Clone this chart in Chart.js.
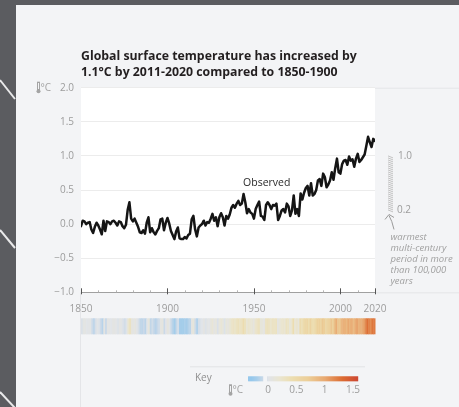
<!DOCTYPE html>
<html>
<head>
<meta charset="utf-8">
<script src="https://cdn.jsdelivr.net/npm/chart.js@4.4.1/dist/chart.umd.min.js"></script>
<style>
  html, body { margin: 0; padding: 0; background: #5b5c60; }
  canvas { display: block; }
</style>
</head>
<body>
<canvas id="gmst" width="459" height="407"></canvas>
<script>
// Observed global surface temperature change relative to 1850-1900 (°C), one value per year
const firstYear = 1850;
const observed = [
  -0.03, 0.05, 0.04, 0.00, 0.02, 0.03, -0.08, -0.13, -0.04, 0.02,   // 1850s
  -0.02, -0.08, -0.15, 0.05, -0.10, 0.04, 0.03, 0.00, 0.04, 0.05,   // 1860s
  0.02, -0.02, 0.04, 0.03, -0.03, -0.06, -0.01, 0.21, 0.32, 0.08,   // 1870s
  0.04, 0.08, 0.02, -0.04, -0.12, -0.13, -0.09, -0.14, 0.02, 0.10,  // 1880s
  -0.12, -0.06, -0.12, -0.15, -0.10, -0.06, 0.07, 0.08, -0.09, 0.02, // 1890s
  0.09, 0.01, -0.10, -0.16, -0.22, -0.11, -0.05, -0.21, -0.22, -0.22, // 1900s
  -0.19, -0.21, -0.16, -0.14, 0.07, 0.12, -0.08, -0.18, -0.05, -0.02, // 1910s
  0.00, 0.05, -0.02, 0.03, 0.02, 0.08, 0.15, 0.05, 0.10, -0.03,     // 1920s
  0.10, 0.16, 0.10, -0.02, 0.12, 0.08, 0.14, 0.24, 0.28, 0.24,      // 1930s
  0.30, 0.34, 0.28, 0.30, 0.44, 0.32, 0.16, 0.22, 0.17, 0.15,       // 1940s
  0.08, 0.22, 0.28, 0.33, 0.12, 0.11, 0.06, 0.28, 0.32, 0.28,       // 1950s
  0.22, 0.28, 0.27, 0.30, 0.06, 0.12, 0.20, 0.22, 0.17, 0.30,       // 1960s
  0.26, 0.12, 0.20, 0.42, 0.15, 0.22, 0.12, 0.45, 0.36, 0.46,       // 1970s
  0.53, 0.56, 0.42, 0.60, 0.42, 0.44, 0.50, 0.64, 0.66, 0.56,       // 1980s
  0.74, 0.69, 0.54, 0.58, 0.64, 0.76, 0.65, 0.82, 0.96, 0.76,       // 1990s
  0.74, 0.88, 0.93, 0.94, 0.87, 0.99, 0.93, 0.95, 0.84, 0.96,       // 2000s
  1.03, 0.91, 0.94, 0.98, 1.02, 1.15, 1.28, 1.20, 1.13, 1.25,       // 2010s
  1.22                                                              // 2020
];
const years = observed.map((_, i) => firstYear + i);

// Axis ticks and labels
const yTicks = [-1.0, -0.5, 0.0, 0.5, 1.0, 1.5, 2.0];
const xTickYears = [1850, 1860, 1870, 1880, 1890, 1900, 1910, 1920, 1930, 1940, 1950,
                    1960, 1970, 1980, 1990, 2000, 2010, 2020];
const xLabelYears = [1850, 1900, 1950, 2000, 2020];

// Texts
const titleLines = ['Global surface temperature has increased by',
                    '1.1°C by 2011-2020 compared to 1850-1900'];
const seriesLabel = 'Observed';
const seriesLabelAt = [1957.4, 0.6];
const warmestRange = [0.2, 1.0];
const warmestNote = ['warmest', 'multi-century', 'period in more', 'than 100,000', 'years'];
const keyTicks = [0, 0.5, 1, 1.5];

// Colour scale used by the stripes and the key
const colourStops = [
  [-0.30, [150, 200, 236]],
  [-0.20, [168, 206, 234]],
  [-0.10, [200, 216, 232]],
  [ 0.00, [225, 228, 232]],
  [ 0.20, [234, 229, 208]],
  [ 0.40, [236, 222, 178]],
  [ 0.70, [236, 206, 152]],
  [ 1.00, [232, 168, 112]],
  [ 1.30, [220, 108, 50]],
  [ 1.60, [204, 68, 50]]
];
function stripeColour(v) {
  if (v <= colourStops[0][0]) return 'rgb(' + colourStops[0][1].join(',') + ')';
  for (let i = 1; i < colourStops.length; i++) {
    const [v1, c1] = colourStops[i];
    if (v <= v1) {
      const [v0, c0] = colourStops[i - 1];
      const t = (v - v0) / (v1 - v0);
      const c = c0.map((a, k) => Math.round(a + (c1[k] - a) * t));
      return 'rgb(' + c.join(',') + ')';
    }
  }
  return 'rgb(' + colourStops[colourStops.length - 1][1].join(',') + ')';
}

const GREY_TEXT = '#9c9c9c';
const FONT = '"Open Sans", "Noto Sans", sans-serif';

function thermometer(ctx, x, y) {
  // small thermometer glyph followed by the unit
  ctx.save();
  ctx.fillStyle = '#a4a4a4';
  ctx.strokeStyle = '#a4a4a4';
  ctx.lineWidth = 1;
  ctx.strokeRect(x + 0.5, y - 5.5, 2, 8);
  ctx.beginPath();
  ctx.arc(x + 1.5, y + 3.5, 2, 0, Math.PI * 2);
  ctx.fill();
  ctx.font = '10px ' + FONT;
  ctx.textBaseline = 'middle';
  ctx.textAlign = 'left';
  ctx.fillText('°C', x + 3.5, y);
  ctx.restore();
}

// Page backdrop, panel and white plotting area
const backdrop = {
  id: 'backdrop',
  beforeDraw(chart) {
    const { ctx, chartArea: a, width, height } = chart;
    ctx.save();
    ctx.fillStyle = '#5b5c60';
    ctx.fillRect(0, 0, width, height);
    ctx.fillStyle = '#f3f4f6';
    ctx.fillRect(16, 5, width - 16, height - 5);
    // diagonal strokes on the dark margin
    ctx.strokeStyle = '#e9e9ea';
    ctx.lineWidth = 2;
    [[80, 99], [230, 248], [392, 408]].forEach(([y0, y1]) => {
      ctx.beginPath();
      ctx.moveTo(0, y0);
      ctx.lineTo(15, y1);
      ctx.stroke();
    });
    ctx.fillStyle = '#ffffff';
    ctx.fillRect(a.left, a.top, a.right - a.left, a.bottom - a.top);
    // faint frame lines of the figure panel
    ctx.strokeStyle = '#e4e5e8';
    ctx.lineWidth = 1;
    ctx.beginPath();
    ctx.moveTo(a.right, a.top + 0.5); ctx.lineTo(width, a.top + 0.5);
    ctx.moveTo(a.right, a.bottom + 0.5); ctx.lineTo(width, a.bottom + 0.5);
    ctx.moveTo(a.left - 0.5, a.bottom); ctx.lineTo(a.left - 0.5, height);
    ctx.stroke();
    ctx.restore();
  }
};

// Annotations, tick marks, warming stripes and key
const overlay = {
  id: 'overlay',
  afterDraw(chart) {
    const { ctx, chartArea: a } = chart;
    const xs = chart.scales.x, ys = chart.scales.y;
    ctx.save();

    // x tick marks sitting on the axis line
    xTickYears.forEach(yr => {
      const px = Math.round(xs.getPixelForValue(yr)) + 0.5;
      const major = xLabelYears.includes(yr);
      ctx.strokeStyle = major ? '#555' : '#b5b5b5';
      ctx.lineWidth = 1;
      ctx.beginPath();
      ctx.moveTo(px, a.bottom - (major ? 4 : 2));
      ctx.lineTo(px, a.bottom + (major ? 2 : 0));
      ctx.stroke();
    });

    // unit next to the top y label
    thermometer(ctx, 37, ys.getPixelForValue(2.0));

    // series label
    ctx.fillStyle = '#2a2a2a';
    ctx.font = '10.5px ' + FONT;
    ctx.textAlign = 'center';
    ctx.textBaseline = 'middle';
    ctx.fillText(seriesLabel, xs.getPixelForValue(seriesLabelAt[0]), ys.getPixelForValue(seriesLabelAt[1]));

    // warmest multi-century period range bar
    const top = ys.getPixelForValue(warmestRange[1]);
    const bot = ys.getPixelForValue(warmestRange[0]);
    const bx = a.right + 13;
    ctx.strokeStyle = '#c3c3c3';
    ctx.lineWidth = 1;
    ctx.beginPath();
    for (let y = top; y < bot; y += 2) {
      ctx.moveTo(bx, y);
      ctx.lineTo(bx + 5, y + 2);
    }
    ctx.stroke();
    ctx.fillStyle = GREY_TEXT;
    ctx.font = '10px ' + FONT;
    ctx.textAlign = 'left';
    ctx.fillText(warmestRange[1].toFixed(1), bx + 10, top);
    ctx.fillText(warmestRange[0].toFixed(1), bx + 9, bot);

    // arrow pointing at the bottom of the range
    ctx.strokeStyle = '#9a9a9a';
    ctx.lineWidth = 1;
    ctx.beginPath();
    ctx.moveTo(bx + 6, bot + 19);
    ctx.quadraticCurveTo(bx + 4, bot + 10, bx + 1, bot + 5);
    ctx.moveTo(bx - 3, bot + 9);
    ctx.lineTo(bx + 1, bot + 4);
    ctx.lineTo(bx + 6, bot + 7);
    ctx.stroke();

    // note under the arrow
    ctx.font = 'italic 9.5px ' + FONT;
    ctx.fillStyle = '#a0a0a0';
    warmestNote.forEach((t, i) => ctx.fillText(t, bx + 2.5, bot + 27 + i * 11));

    // warming stripes, one per year
    const n = observed.length;
    const w = (xs.right - xs.left) / n;
    const sTop = a.bottom + 26;
    observed.forEach((v, i) => {
      ctx.fillStyle = stripeColour(v);
      ctx.fillRect(xs.left + i * w, sTop, w + 0.5, 16);
    });

    // key
    const kLeft = 190, kRight = 365, kY = a.bottom + 74;
    ctx.strokeStyle = '#e2e3e6';
    ctx.beginPath();
    ctx.moveTo(kLeft, kY + 0.5);
    ctx.lineTo(kRight, kY + 0.5);
    ctx.stroke();
    ctx.fillStyle = '#8f8f8f';
    ctx.font = '10px ' + FONT;
    ctx.textAlign = 'left';
    ctx.fillText('Key', kLeft + 5, kY + 12);
    const k0 = 268, kUnit = 56.7, barY = kY + 10;
    for (let px = k0 - 20; px < k0 + 1.58 * kUnit; px++) {
      const v = (px - k0) / kUnit;
      if (v > -0.09 && v < -0.02) continue;
      ctx.fillStyle = stripeColour(v);
      ctx.fillRect(px, barY, 1.2, 5);
    }
    ctx.fillStyle = GREY_TEXT;
    ctx.textAlign = 'center';
    keyTicks.forEach(t => ctx.fillText(String(t), k0 + t * kUnit, kY + 24));
    thermometer(ctx, 229, kY + 24);

    ctx.restore();
  }
};

new Chart(document.getElementById('gmst'), {
  type: 'line',
  data: {
    datasets: [{
      label: seriesLabel,
      data: years.map((yr, i) => ({ x: yr, y: observed[i] })),
      borderColor: '#151515',
      borderWidth: 2.5,
      pointRadius: 0,
      tension: 0,
      borderJoinStyle: 'round',
      borderCapStyle: 'round'
    }]
  },
  options: {
    responsive: false,
    animation: false,
    devicePixelRatio: 1,
    layout: { padding: { left: 31, right: 84, top: 40, bottom: 92.7 } },
    plugins: {
      legend: { display: false },
      tooltip: { enabled: false },
      title: {
        display: true,
        text: titleLines,
        align: 'start',
        fullSize: false,
        color: '#231f20',
        font: { family: FONT, size: 12.3, weight: 'bold', lineHeight: 16 / 12.3 },
        padding: { top: 8, bottom: 7.7 }
      }
    },
    scales: {
      x: {
        type: 'linear',
        min: 1850,
        max: 2020,
        afterBuildTicks: s => { s.ticks = xTickYears.map(v => ({ value: v })); },
        afterFit: s => { s.height = 22; },
        ticks: {
          autoSkip: false,
          maxRotation: 0,
          padding: 3,
          color: GREY_TEXT,
          font: { family: FONT, size: 10 },
          callback: v => xLabelYears.includes(v) ? String(v) : ''
        },
        grid: { display: false },
        border: { display: true, color: '#a0a0a0', width: 1 }
      },
      y: {
        min: -1,
        max: 2,
        afterBuildTicks: s => { s.ticks = yTicks.map(v => ({ value: v })); },
        afterFit: s => { s.width = 50; },
        ticks: {
          padding: 7,
          color: GREY_TEXT,
          font: { family: FONT, size: 10 },
          callback: v => v.toFixed(1).replace('-', '\u2212')
        },
        grid: { color: '#ececec', drawTicks: false },
        border: { display: false }
      }
    }
  },
  plugins: [backdrop, overlay]
});
</script>
</body>
</html>
